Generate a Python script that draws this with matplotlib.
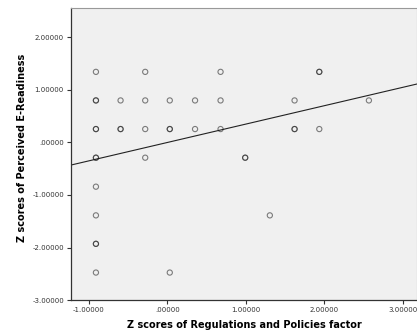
import numpy as np
import matplotlib
matplotlib.use("Agg")
import matplotlib.pyplot as plt
from matplotlib.ticker import FuncFormatter

# Z scores (repeated entries = overlapping cases, drawn darker)
reg_policy_z = [-0.911, -0.911, -0.911, -0.911, -0.911, -0.911, -0.911, -0.911, -0.911, -0.911, -0.911, -0.911,
                -0.597, -0.597, -0.597,
                -0.283, -0.283, -0.283, -0.283,
                0.030, 0.030, 0.030, 0.030,
                0.352, 0.352,
                0.677, 0.677, 0.677,
                0.991, 0.991,
                1.305,
                1.620, 1.620, 1.620,
                1.935, 1.935, 1.935,
                2.567]
readiness_z = [1.344, 0.800, 0.800, 0.255, 0.255, -0.290, -0.290, -0.842, -1.388, -1.930, -1.930, -2.477,
               0.800, 0.255, 0.255,
               1.344, 0.800, 0.255, -0.290,
               0.800, 0.255, 0.255, -2.477,
               0.800, 0.255,
               1.344, 0.800, 0.255,
               -0.290, -0.290,
               -1.388,
               0.800, 0.255, 0.255,
               1.344, 1.344, 0.255,
               0.800]

# fit line (from chart)
fit_slope = 0.35
fit_intercept = 0.0

x_ticks = [-1, 0, 1, 2, 3]
y_ticks = [-3, -2, -1, 0, 1, 2]


def spss_fmt(v, pos):
    s = "%.5f" % v
    s = s.replace("-0.", "-.")
    if s.startswith("0."):
        s = s[1:]
    return s


fig = plt.figure(figsize=(4.17, 3.33), dpi=100)
ax = fig.add_axes([0.170, 0.099, 0.830, 0.877])
ax.set_facecolor("#f0f0f0")

ax.scatter(reg_policy_z, readiness_z, s=14, facecolors="none",
           edgecolors=(0.1, 0.1, 0.1, 0.55), linewidths=0.8, zorder=3)

xl = np.array([-1.23, 3.2])
ax.plot(xl, fit_intercept + fit_slope * xl, color="#222222", lw=0.8, zorder=2)

ax.set_xlim(-1.23, 3.18)
ax.set_ylim(-3.0, 2.56)
ax.set_xticks(x_ticks)
ax.set_yticks(y_ticks)
ax.xaxis.set_major_formatter(FuncFormatter(spss_fmt))
ax.yaxis.set_major_formatter(FuncFormatter(spss_fmt))
ax.tick_params(labelsize=5, colors="#333333", length=3, width=0.8, pad=2)

for side in ["top", "right"]:
    ax.spines[side].set_color("#999999")
    ax.spines[side].set_linewidth(0.8)
for side in ["left", "bottom"]:
    ax.spines[side].set_color("#333333")
    ax.spines[side].set_linewidth(0.9)

ax.set_xlabel("Z scores of Regulations and Policies factor", fontsize=7, fontweight="bold", labelpad=5)
ax.set_ylabel("Z scores of Perceived E-Readiness", fontsize=7, fontweight="bold")
ax.yaxis.set_label_coords(-0.128, 0.52)

fig.savefig("out.png", dpi=100)
